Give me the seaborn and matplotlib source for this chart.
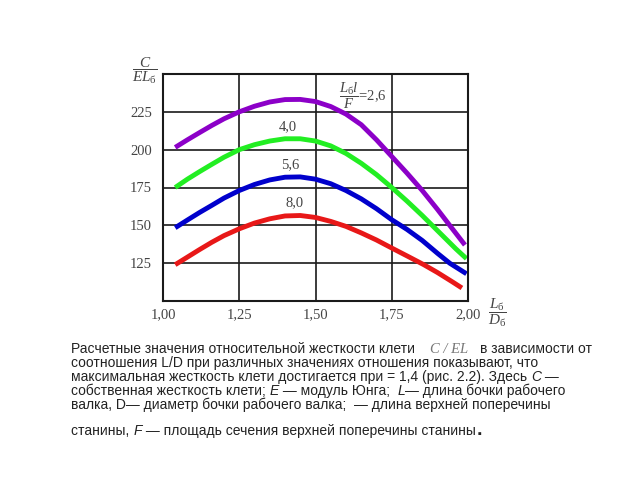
import matplotlib
matplotlib.use("Agg")
import matplotlib.pyplot as plt
from matplotlib.font_manager import FontProperties
import numpy as np
import pandas as pd
import seaborn as sns

# ---- data ----
ratios = ["2,6", "4,0", "5,6", "8,0"]

x_26 = [1.04, 1.08, 1.12, 1.16, 1.20, 1.25, 1.30, 1.35, 1.40, 1.45, 1.50, 1.55, 1.60,
        1.65, 1.70, 1.75, 1.80, 1.85, 1.90, 1.94, 1.99]
y_26 = [201.5, 206.5, 211.3, 216, 220.4, 225, 228.7, 231.5, 233.1, 233.2, 231.8, 228.5,
        223.5, 216.5, 206.5, 195.5, 184.5, 173, 160.5, 150, 137]

x_40 = [1.04, 1.08, 1.12, 1.16, 1.20, 1.25, 1.30, 1.35, 1.40, 1.45, 1.50, 1.55, 1.60,
        1.65, 1.70, 1.75, 1.80, 1.85, 1.88, 1.92, 1.96, 1.995]
y_40 = [175, 180.5, 185.5, 190.3, 195, 200, 203.3, 205.7, 207.2, 207.2, 205.7, 202.5,
        197.5, 191, 183.5, 175, 166, 156.5, 150.5, 142.5, 134.5, 128]

x_56 = [1.04, 1.08, 1.12, 1.16, 1.20, 1.25, 1.30, 1.35, 1.40, 1.45, 1.50, 1.55, 1.60,
        1.65, 1.70, 1.75, 1.80, 1.85, 1.90, 1.94, 1.995]
y_56 = [148.4, 153.5, 158.5, 163.2, 168, 173, 177, 180, 181.8, 182, 180.5, 177.5, 173,
        167.5, 161, 153.7, 147.3, 140, 131.5, 125, 118]

x_80 = [1.04, 1.08, 1.12, 1.16, 1.20, 1.25, 1.30, 1.35, 1.40, 1.45, 1.50, 1.55, 1.60,
        1.65, 1.70, 1.75, 1.80, 1.855, 1.90, 1.95, 1.98]
y_80 = [124, 129, 134, 138.8, 143.2, 147.7, 151.5, 154.3, 156.2, 156.5, 155.2, 152.6,
        149.3, 145, 140.3, 135, 129.8, 124, 118.8, 112.5, 108.6]

x_ticks = [1.00, 1.25, 1.50, 1.75, 2.00]
x_tick_labels = ["1,00", "1,25", "1,50", "1,75", "2,00"]
y_ticks = [125, 150, 175, 200, 225]
y_tick_labels = ["125", "150", "175", "200", "225"]

label_pos = {"4,0": (1.408, 215), "5,6": (1.418, 190), "8,0": (1.43, 165)}

colors = ["#8C00C8", "#22EE22", "#0000CC", "#E81818"]

# caption: each line is a list of (text, italic?) pieces
caption_first = ["Расчетные значения относительной жесткости клети", "C / EL", "в зависимости от"]
caption_rest = [
    [("соотношения L/D при различных значениях отношения показывают, что", False)],
    [("максимальная жесткость клети достигается при = 1,4 (рис. 2.2). Здесь ", False),
     ("C", True), (" —", False)],
    [("собственная жесткость клети; ", False), ("E", True), (" — модуль Юнга;  ", False),
     ("L", True), ("— длина бочки рабочего", False)],
    [("валка, D— диаметр бочки рабочего валка;  — длина верхней поперечины", False)],
    [("станины, ", False), ("F", True),
     (" — площадь сечения верхней поперечины станины", False)],
]
caption_baselines = [367, 381, 395, 409, 435]

# ---- styling ----
sns.set_theme(style="white")
plt.rcParams["font.family"] = ["Liberation Serif", "DejaVu Serif"]
plt.rcParams["mathtext.fontset"] = "custom"
plt.rcParams["mathtext.rm"] = "Liberation Serif"
plt.rcParams["mathtext.it"] = "Liberation Serif:italic"

W, H = 640, 480
fig = plt.figure(figsize=(6.4, 4.8), dpi=100)
fig.patch.set_facecolor("white")
ax = fig.add_axes([163 / W, 1 - 301 / H, 305 / W, 227 / H])

frames = []
for name, xs, ys in zip(ratios, [x_26, x_40, x_56, x_80], [y_26, y_40, y_56, y_80]):
    frames.append(pd.DataFrame({"x": xs, "y": ys, "ratio": name}))
df = pd.concat(frames, ignore_index=True)

sns.lineplot(data=df, x="x", y="y", hue="ratio", palette=colors, hue_order=ratios,
             linewidth=3.5, legend=False, ax=ax, sort=False, estimator=None,
             solid_capstyle="butt", solid_joinstyle="round")

ax.set_xlim(1.0, 2.0)
ax.set_ylim(100, 250)
ax.set_xticks(x_ticks, x_tick_labels)
ax.set_yticks(y_ticks, y_tick_labels)
ax.set_axisbelow(True)
ax.grid(True, color="#1a1a1a", linewidth=1.2)
for s in ax.spines.values():
    s.set_visible(True)
    s.set_color("#1a1a1a")
    s.set_linewidth(1.5)
ax.tick_params(length=0, pad=8, labelsize=10.5, labelcolor="#444444")
ax.tick_params(axis="x", pad=5)
ax.set_xlabel("")
ax.set_ylabel("")

for name in ["4,0", "5,6", "8,0"]:
    px, py = label_pos[name]
    ax.text(px, py, name, ha="center", va="center", fontsize=10.5, color="#444444")

ax.text(1.655, 236, r"$\dfrac{L_{\mathrm{б}}l}{F}$" + "=2,6", ha="center", va="center",
        fontsize=10.5, color="#444444")

fig.text(145 / W, 1 - 71 / H, r"$\dfrac{C}{EL_{\mathrm{б}}}$", ha="center", va="center",
         fontsize=11, color="#444444")
fig.text(497 / W, 1 - 313 / H, r"$\dfrac{L_{\mathrm{б}}}{D_{\mathrm{б}}}$", ha="center",
         va="center", fontsize=11, color="#444444")

# ---- caption ----
CAP_FS = 10
sans = ["Liberation Sans", "DejaVu Sans"]
cap_kw = dict(fontsize=CAP_FS, color="#222222", family=sans, ha="left", va="baseline")
fig.text(71 / W, 1 - 353 / H, caption_first[0], **cap_kw)
fig.text(430 / W, 1 - 353 / H, caption_first[1], fontsize=10.5, color="#777777",
         family=["Liberation Serif"], style="italic", ha="left", va="baseline")
fig.text(480 / W, 1 - 353 / H, caption_first[2], **cap_kw)

renderer = fig.canvas.get_renderer()


def advance(s, italic):
    prop = FontProperties(family=sans, size=CAP_FS, style="italic" if italic else "normal")
    w1, _, _ = renderer.get_text_width_height_descent(s + "x", prop, ismath=False)
    w0, _, _ = renderer.get_text_width_height_descent("x", prop, ismath=False)
    return w1 - w0


x_end = 0
for yb, pieces in zip(caption_baselines, caption_rest):
    x = 71.0
    for txt, it in pieces:
        fig.text(x / W, 1 - yb / H, txt, style="italic" if it else "normal", **cap_kw)
        x += advance(txt, it)
    x_end = x

fig.text((x_end + 1) / W, 1 - 435 / H, ".", fontsize=14, fontweight="bold",
         color="#222222", family=sans, ha="left", va="baseline")

fig.savefig("out.png", dpi=100, facecolor="white")
